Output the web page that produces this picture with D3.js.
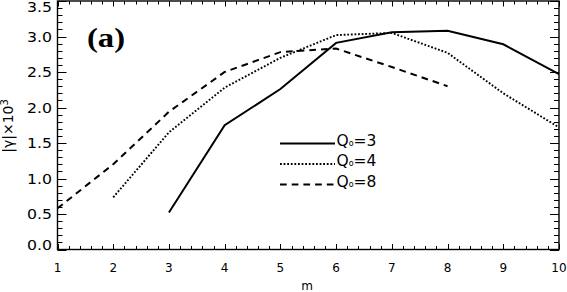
<!DOCTYPE html>
<html><head><meta charset="utf-8">
<script src="https://d3js.org/d3.v7.min.js"></script>
<style>
html,body{margin:0;padding:0;background:#fff;}
svg{display:block;}
text{font-family:"DejaVu Sans",sans-serif;fill:#000;}
</style></head>
<body>
<script>
// ---- data ----
const mQ3 = [3,4,5,6,7,8,9,10];
const gQ3 = [0.52,1.75,2.26,2.91,3.06,3.08,2.89,2.47];
const mQ4 = [2,3,4,5,6,7,8,9,10];
const gQ4 = [0.735,1.65,2.28,2.70,3.02,3.05,2.77,2.20,1.72];
const mQ8 = [1,2,3,4,5,6,7,8];
const gQ8 = [0.58,1.20,1.94,2.50,2.78,2.83,2.57,2.30];
const seriesNames = ["3","4","8"];
const xTicks = [1,2,3,4,5,6,7,8,9,10];
const yTicks = [0.0,0.5,1.0,1.5,2.0,2.5,3.0,3.5];
const yTickLabels = ["0.0","0.5","1.0","1.5","2.0","2.5","3.0","3.5"];

const W=567,H=292;
const L=57.5,R=559,T=1,B=249.5;
const svg=d3.select("body").append("svg").attr("width",W).attr("height",H);
const x=d3.scaleLinear().domain([1,10]).range([L,R]);
const y=d3.scaleLinear().domain([0,3.5]).range([B,T]);

// ticks
const g=svg.append("g").attr("stroke","#000").attr("stroke-width",1);
const xMinor=d3.range(1,10.001,0.2);
const yMinor=d3.range(0,3.5001,0.1);
xMinor.forEach(v=>{
  const isMaj=Math.abs(v-Math.round(v))<1e-6;
  const len=isMaj?5.5:3.5;
  const px=Math.round(x(v))+0.5;
  g.append("line").attr("x1",px).attr("x2",px).attr("y1",B).attr("y2",B-len);
  g.append("line").attr("x1",px).attr("x2",px).attr("y1",T).attr("y2",T+len);
});
yMinor.forEach(v=>{
  const isMaj=Math.abs(v*2-Math.round(v*2))<1e-6;
  const len=isMaj?9:5;
  const py=Math.round(y(v))+0.5;
  g.append("line").attr("x1",L).attr("x2",L+len).attr("y1",py).attr("y2",py);
  g.append("line").attr("x1",R).attr("x2",R-len).attr("y1",py).attr("y2",py);
});
// frame
svg.append("rect").attr("x",L).attr("y",T).attr("width",R-L).attr("height",B-T)
  .attr("fill","none").attr("stroke","#000").attr("stroke-width",1.4);

// tick labels
xTicks.forEach(v=>{
  svg.append("text").attr("x",x(v)).attr("y",271.5).attr("text-anchor","middle")
    .attr("font-size",12).text(String(v));
});
yTicks.forEach((v,i)=>{
  let cy=y(v);
  if(i===0) cy=245;
  if(i===yTicks.length-1) cy=6.5;
  svg.append("text").attr("x",52).attr("y",cy+5).attr("text-anchor","end")
    .attr("font-size",13.5).attr("textLength",25).attr("lengthAdjust","spacingAndGlyphs")
    .text(yTickLabels[i]);
});

// axis titles
svg.append("text").attr("x",307).attr("y",290).attr("text-anchor","middle")
  .attr("font-size",12).text("m");
const yt=svg.append("text").attr("transform","translate(13,126) rotate(-90)")
  .attr("text-anchor","middle").attr("font-size",14);
yt.append("tspan").text("|γ|×10");
yt.append("tspan").attr("dy",-5).attr("font-size",10).text("3");

// panel label
svg.append("text").attr("x",106).attr("y",47).attr("text-anchor","middle")
  .style("font-family","'Liberation Serif',serif").attr("font-weight","bold")
  .attr("font-size",27).attr("textLength",38).attr("lengthAdjust","spacingAndGlyphs").text("(a)");

// lines
const line=d3.line().x(d=>x(d[0])).y(d=>y(d[1]));
const styles=[
  {dash:null,w:2},
  {dash:"1.8,1.8",w:1.9},
  {dash:"6.7,5",w:2}
];
const data=[d3.zip(mQ3,gQ3),d3.zip(mQ4,gQ4),d3.zip(mQ8,gQ8)];
data.forEach((d,i)=>{
  svg.append("path").datum(d).attr("d",line).attr("fill","none")
    .attr("stroke","#000").attr("stroke-width",styles[i].w)
    .attr("stroke-dasharray",styles[i].dash);
});

// legend
const legY=[143.5,164,184.5];
seriesNames.forEach((s,i)=>{
  svg.append("line").attr("x1",280).attr("x2",335).attr("y1",legY[i]).attr("y2",legY[i])
    .attr("stroke","#000").attr("stroke-width",styles[i].w).attr("stroke-dasharray",styles[i].dash);
  const t=svg.append("text").attr("x",336.5).attr("y",legY[i]+2).attr("font-size",15.5);
  t.append("tspan").text("Q");
  t.append("tspan").attr("font-size",8).text("o");
  t.append("tspan").text("="+s);
});
</script>
</body></html>
